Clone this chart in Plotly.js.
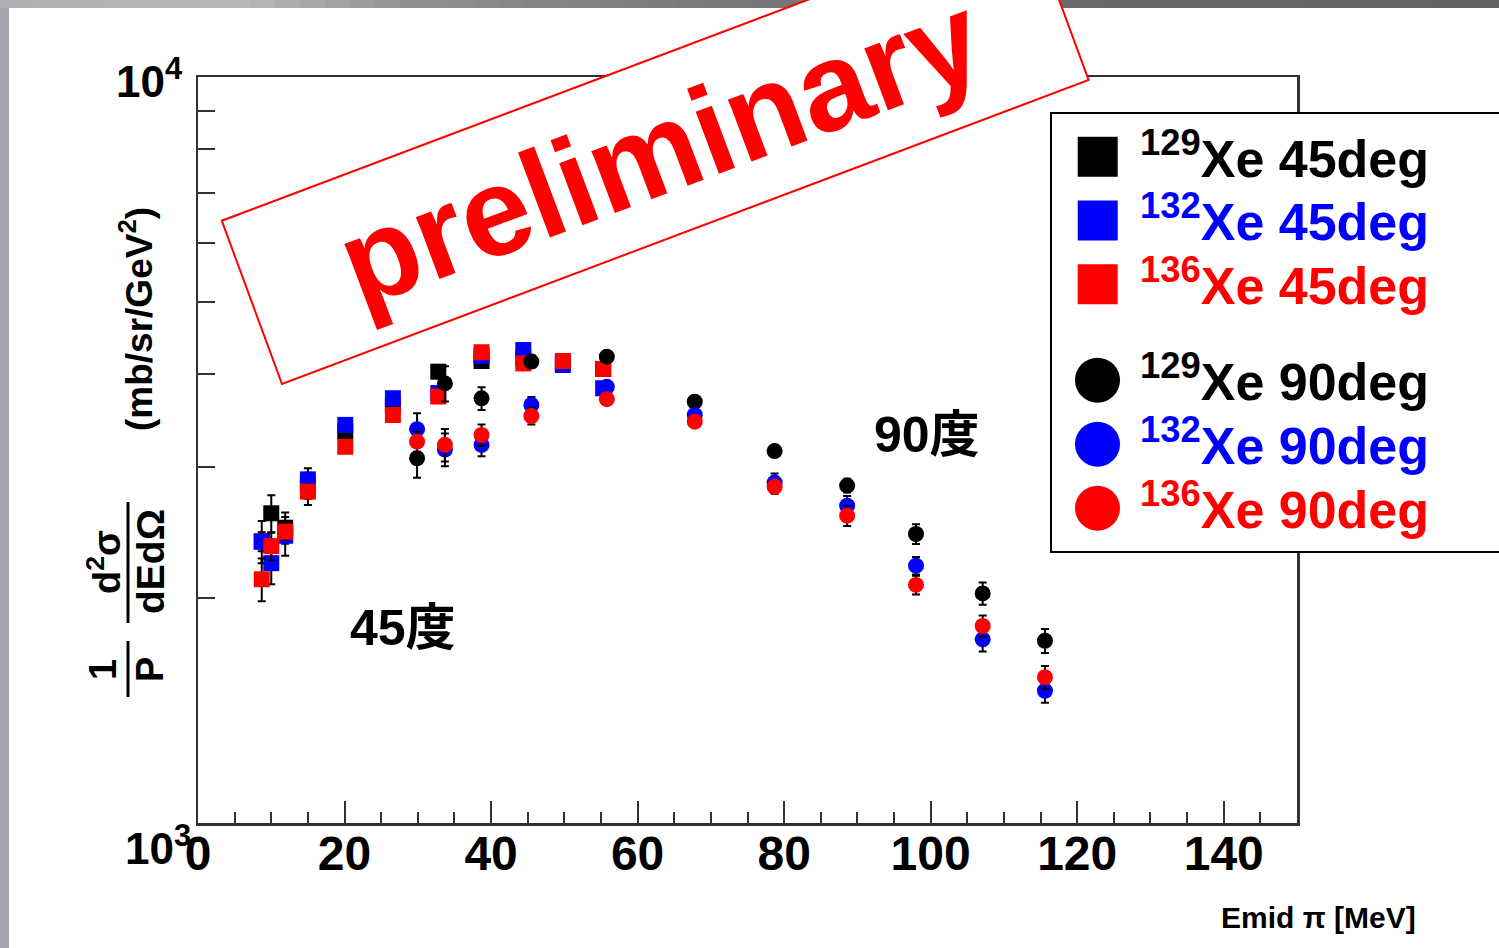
<!DOCTYPE html>
<html>
<head>
<meta charset="utf-8">
<script src="https://cdn.plot.ly/plotly-3.0.1.min.js"></script>
<style>html,body{margin:0;padding:0;background:#fff;}#chart{width:1499px;height:948px;}</style>
</head>
<body>
<div id="chart"></div>
<script>
// ---------- data ----------
const x45 = [8.7, 10.0, 11.9, 15.0, 20.1, 26.6, 32.8, 38.7, 44.4, 49.8, 55.3];
const xe129_45 = [2385, 2601, 2488, 2829, 3350, 3620, 4027, 4162, 4200, 4140, 4061];
const xe132_45 = [2383, 2230, 2427, 2888, 3417, 3710, 3770, 4227, 4306, 4111, 3826];
const xe136_45 = [2122, 2351, 2458, 2781, 3194, 3523, 3730, 4276, 4131, 4162, 4061];
const err129_45 = [155, 150, 120, 160, 50, 50, 60, 50, 50, 50, 50];
const err132_45 = [70, 140, 145, 60, 45, 45, 50, 45, 45, 45, 45];
const err136_45 = [140, 100, 60, 60, 45, 45, 50, 45, 45, 45, 45];

const x90 = [29.9, 33.7, 38.7, 45.5, 55.8, 67.8, 78.7, 88.6, 98.0, 107.1, 115.6];
const xe129_90 = [3083, 3884, 3709, 4154, 4218, 3671, 3152, 2833, 2440, 2031, 1755];
const xe132_90 = [3372, 3167, 3212, 3634, 3843, 3523, 2860, 2663, 2213, 1763, 1504];
const xe136_90 = [3245, 3213, 3312, 3512, 3699, 3451, 2823, 2582, 2085, 1837, 1568];
const err129_90 = [180, 210, 130, 80, 45, 45, 50, 60, 75, 70, 65];
const err132_90 = [170, 160, 110, 90, 45, 40, 80, 80, 60, 65, 55];
const err136_90 = [100, 160, 110, 90, 45, 40, 60, 80, 60, 60, 55];

const seriesNames = ['129Xe 45deg','132Xe 45deg','136Xe 45deg','129Xe 90deg','132Xe 90deg','136Xe 90deg'];
const isotopes = ['129','132','136'];
const angles = ['45','90'];
const colors = ['#000000','#0000ff','#ff0000'];

const xTickVals = [0,20,40,60,80,100,120,140];
const yMinorVals = [2000,3000,4000,5000,6000,7000,8000,9000];

// ---------- geometry helpers (pixel -> paper) ----------
const L = 198, T = 77, PW = 1099, PH = 746;
const px = v => (v - L) / PW;
const py = v => (T + PH - v) / PH;

const FONT = 'Liberation Sans, Arial, Helvetica, sans-serif';

function mk(x, y, e, name, color, symbol) {
  return {
    type: 'scatter', mode: 'markers', x: x, y: y, name: name,
    marker: {symbol: symbol, size: 16, color: color, line: {width: 0}},
    error_y: {type: 'data', array: e, visible: true, color: '#000', thickness: 2, width: 4},
    showlegend: false, cliponaxis: false
  };
}

const data = [
  mk(x45, xe129_45, err129_45, seriesNames[0], colors[0], 'square'),
  mk(x45, xe132_45, err132_45, seriesNames[1], colors[1], 'square'),
  mk(x45, xe136_45, err136_45, seriesNames[2], colors[2], 'square'),
  mk(x90, xe129_90, err129_90, seriesNames[3], colors[0], 'circle'),
  mk(x90, xe132_90, err132_90, seriesNames[4], colors[1], 'circle'),
  mk(x90, xe136_90, err136_90, seriesNames[5], colors[2], 'circle')
];

// ---------- decorations ----------
const shapes = [];
const annotations = [];

// slide border (grey strips)
const topStops = [[0,[176,175,180]],[250,[182,181,186]],[420,[143,141,147]],[700,[122,120,126]],[1100,[106,104,110]],[1499,[99,97,103]]];
function topColor(x){
  for(let i=0;i<topStops.length-1;i++){
    const a=topStops[i], b=topStops[i+1];
    if(x<=b[0]){ const t=(x-a[0])/(b[0]-a[0]); const c=a[1].map((v,k)=>Math.round(v+(b[1][k]-v)*t)); return 'rgb('+c.join(',')+')'; }
  }
  return 'rgb(99,97,103)';
}
for(let x=0;x<1499;x+=25){
  shapes.push({type:'rect',xref:'paper',yref:'paper',x0:px(x),x1:px(x+26),y0:py(8),y1:py(-1),fillcolor:topColor(x+12),line:{width:0},layer:'above'});
}
shapes.push({type:'rect',xref:'paper',yref:'paper',x0:px(-1),x1:px(9),y0:py(949),y1:py(8),fillcolor:'#a6a5ab',line:{width:0},layer:'above'});

// preliminary stamp
const c1=[221.8,220.7], c2=[282,384], c3=[1088.6,80], c4=[1028.4,-83.3];
shapes.push({type:'path',xref:'paper',yref:'paper',
  path:`M ${px(c1[0])} ${py(c1[1])} L ${px(c2[0])} ${py(c2[1])} L ${px(c3[0])} ${py(c3[1])} L ${px(c4[0])} ${py(c4[1])} Z`,
  fillcolor:'#ffffff',line:{color:'#ff0000',width:2},layer:'above'});
annotations.push({xref:'paper',yref:'paper',x:px(660),y:py(150),text:'preliminary',showarrow:false,
  textangle:-20.6,xanchor:'center',yanchor:'middle',font:{family:FONT,size:125,color:'#ff0000',weight:'bold'}});

// legend box
shapes.push({type:'rect',xref:'paper',yref:'paper',x0:px(1051),x1:px(1520),y0:py(552),y1:py(113),fillcolor:'#ffffff',line:{color:'#000',width:2},layer:'above'});
const rowY = [156.7, 220.5, 284.3, 380.2, 444.2, 508.2];
for(let a=0;a<2;a++){
  for(let i=0;i<3;i++){
    const r = a*3+i, cy=rowY[r];
    if(a===0){
      shapes.push({type:'rect',xref:'paper',yref:'paper',x0:px(1077.7),x1:px(1117.7),y0:py(cy+20),y1:py(cy-20),fillcolor:colors[i],line:{width:0},layer:'above'});
    } else {
      shapes.push({type:'circle',xref:'paper',yref:'paper',x0:px(1075),x1:px(1120),y0:py(cy+22.5),y1:py(cy-22.5),fillcolor:colors[i],line:{width:0},layer:'above'});
    }
    annotations.push({xref:'paper',yref:'paper',x:px(1138),y:py(cy-2),xanchor:'left',yanchor:'middle',showarrow:false,
      text:'<sup>'+isotopes[i]+'</sup>Xe '+angles[a]+'deg',font:{family:FONT,size:52,color:colors[i],weight:'bold'}});
  }
}

// in-plot labels
annotations.push({xref:'paper',yref:'paper',x:px(403),y:py(628),text:'45度',showarrow:false,xanchor:'center',yanchor:'middle',
  font:{family:'Liberation Sans, Noto Sans CJK JP, sans-serif',size:50,color:'#000',weight:'bold'}});
annotations.push({xref:'paper',yref:'paper',x:px(927),y:py(435),text:'90度',showarrow:false,xanchor:'center',yanchor:'middle',
  font:{family:'Liberation Sans, Noto Sans CJK JP, sans-serif',size:50,color:'#000',weight:'bold'}});

// y tick labels (10^3, 10^4)
annotations.push({xref:'paper',yref:'paper',x:px(184),y:py(78),xanchor:'right',yanchor:'middle',showarrow:false,
  text:'10<sup>4</sup>',font:{family:FONT,size:44,color:'#000',weight:'bold'}});
annotations.push({xref:'paper',yref:'paper',x:px(193),y:py(845),xanchor:'right',yanchor:'middle',showarrow:false,
  text:'10<sup>3</sup>',font:{family:FONT,size:44,color:'#000',weight:'bold'}});

// y title pieces
annotations.push({xref:'paper',yref:'paper',x:px(136),y:py(319),textangle:-90,showarrow:false,xanchor:'center',yanchor:'middle',
  text:'(mb/sr/GeV<sup>2</sup>)',font:{family:FONT,size:37,color:'#000',weight:'bold'}});
annotations.push({xref:'paper',yref:'paper',x:px(104),y:py(562),textangle:-90,showarrow:false,xanchor:'center',yanchor:'middle',
  text:'d<sup>2</sup>σ',font:{family:FONT,size:38,color:'#000',weight:'bold'}});
annotations.push({xref:'paper',yref:'paper',x:px(150),y:py(562),textangle:-90,showarrow:false,xanchor:'center',yanchor:'middle',
  text:'dEdΩ',font:{family:FONT,size:39,color:'#000',weight:'bold'}});
annotations.push({xref:'paper',yref:'paper',x:px(103),y:py(670),textangle:-90,showarrow:false,xanchor:'center',yanchor:'middle',
  text:'1',font:{family:FONT,size:38,color:'#000',weight:'bold'}});
annotations.push({xref:'paper',yref:'paper',x:px(150),y:py(670),textangle:-90,showarrow:false,xanchor:'center',yanchor:'middle',
  text:'P',font:{family:FONT,size:38,color:'#000',weight:'bold'}});
shapes.push({type:'line',xref:'paper',yref:'paper',x0:px(128),x1:px(128),y0:py(502),y1:py(623),line:{color:'#000',width:3},layer:'above'});
shapes.push({type:'line',xref:'paper',yref:'paper',x0:px(128),x1:px(128),y0:py(641),y1:py(697),line:{color:'#000',width:3},layer:'above'});

// x title
annotations.push({xref:'paper',yref:'paper',x:px(1418),y:py(917),xanchor:'right',yanchor:'middle',showarrow:false,
  text:'Emid π [MeV]',font:{family:FONT,size:30,color:'#000',weight:'bold'}});

const layout = {
  width: 1499, height: 948,
  margin: {l: L, r: 1499 - L - PW, t: T, b: 948 - T - PH, pad: 0},
  paper_bgcolor: '#ffffff', plot_bgcolor: '#ffffff',
  showlegend: false,
  font: {family: FONT, color: '#000'},
  xaxis: {
    range: [0, 150], tickmode: 'array', tickvals: xTickVals,
    ticks: 'inside', ticklen: 22, tickwidth: 2, tickcolor: '#333',
    showline: true, linecolor: '#333', linewidth: 2.5, mirror: true,
    showgrid: false, zeroline: false,
    tickfont: {family: FONT, size: 48, color: '#000', weight: 'bold'},
    ticklabelstandoff: -13,
    minor: {dtick: 5, tick0: 0, ticks: 'inside', ticklen: 11, tickwidth: 2, tickcolor: '#333', showgrid: false}
  },
  yaxis: {
    type: 'log', range: [3, 4], tickmode: 'array', tickvals: [1000, 10000],
    ticks: 'inside', ticklen: 33, tickwidth: 2, tickcolor: '#333',
    showline: true, linecolor: '#333', linewidth: 2.5, mirror: true,
    showgrid: false, zeroline: false, showticklabels: false,
    minor: {tickmode: 'array', tickvals: yMinorVals, ticks: 'inside', ticklen: 17, tickwidth: 2, tickcolor: '#333', showgrid: false}
  },
  shapes: shapes,
  annotations: annotations
};

Plotly.newPlot('chart', data, layout, {staticPlot: true, displayModeBar: false});
</script>
</body>
</html>
